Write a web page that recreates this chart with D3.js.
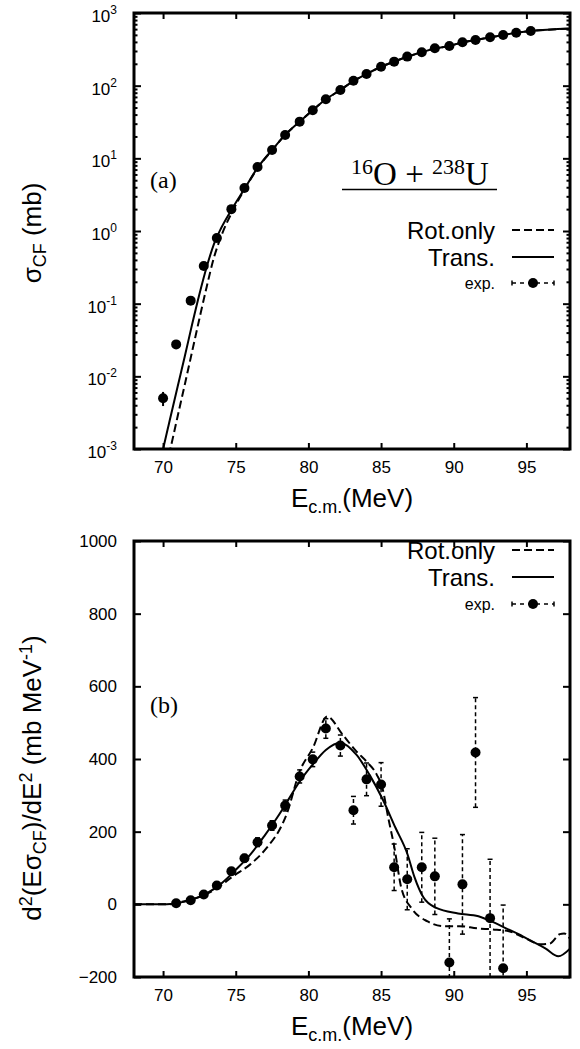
<!DOCTYPE html>
<html>
<head>
<meta charset="utf-8">
<script src="https://d3js.org/d3.v7.min.js"></script>
<style>
body{margin:0;background:#fff;}
svg text{font-family:"Liberation Sans",Arial,sans-serif;fill:#000;}
.serif{font-family:"Liberation Serif","Times New Roman",serif;}
</style>
</head>
<body>
<svg id="chart"></svg>
<script>
// ---- data ----
var xTicks = [70, 75, 80, 85, 90, 95];
var sigmaTicks = [1e-3, 1e-2, 1e-1, 1, 10, 100, 1000];
var sigmaExps = ["-3", "-2", "-1", "0", "1", "2", "3"];
var d2Ticks = [-200, 0, 200, 400, 600, 800, 1000];

// (a) fusion cross section, exp.
var expE = [70.0, 70.9, 71.9, 72.8, 73.7, 74.7, 75.6, 76.5, 77.5, 78.4, 79.4, 80.3, 81.2, 82.2,
            83.1, 84.0, 85.0, 85.9, 86.8, 87.8, 88.7, 89.7, 90.6, 91.5, 92.5, 93.4, 94.3, 95.3];
var expSigma = [0.005, 0.0275, 0.11, 0.33, 0.8, 2.0, 3.9, 7.6, 13, 21, 32, 46, 65, 87,
                117, 145, 182, 214, 251, 288, 327, 351, 395, 425, 463, 498, 536, 565];
var expSigmaErr = [0.0011, 0.003, 0.008, 0.02, 0.04, 0.08, 0.15, 0.3, 0.5, 0.8, 1, 1.5, 2, 3,
                   4, 5, 6, 7, 8, 9, 10, 11, 12, 13, 14, 15, 16, 17];

// (a) calculations
var transE = [69.9, 70.0, 70.5, 71.0, 71.5, 72.0, 72.5, 73.0, 73.5, 74.0, 74.7, 75.6, 76.5, 77.5, 78.4,
              79.4, 80.3, 81.2, 82.2, 83.1, 84.0, 85.0, 85.9, 86.8, 87.8, 88.7, 89.7, 90.6,
              91.5, 92.5, 93.4, 94.3, 95.3, 98.0];
var transSigma = [0.00083, 0.001, 0.0027, 0.0072, 0.019, 0.052, 0.135, 0.32, 0.66, 1.1, 1.95, 3.8, 7.4, 13, 21,
                  32, 46, 65, 87, 116, 145, 182, 214, 250, 288, 325, 352, 394,
                  425, 462, 497, 535, 565, 610];
var rotE = [70.4, 70.5, 71.0, 71.5, 72.0, 72.5, 73.0, 73.5, 74.0, 74.7, 75.6, 76.5, 77.5, 78.4,
            79.4, 80.3, 81.2, 82.2, 83.1, 84.0, 85.0, 85.9, 86.8, 87.8, 88.7, 89.7, 90.6,
            91.5, 92.5, 93.4, 94.3, 95.3, 98.0];
var rotSigma = [0.00082, 0.001, 0.0028, 0.0078, 0.022, 0.062, 0.17, 0.43, 0.85, 1.75, 3.7, 7.3, 13, 21,
                32, 46, 65, 87, 116, 145, 182, 214, 250, 288, 325, 352, 394,
                425, 462, 497, 535, 565, 610];

// (b) barrier distribution, exp.
var barE = [70.9, 71.9, 72.8, 73.7, 74.7, 75.6, 76.5, 77.5, 78.4, 79.4, 80.3, 81.2, 82.2,
            83.1, 84.0, 85.0, 85.9, 86.8, 87.8, 88.7, 89.7, 90.6, 91.5, 92.5, 93.4];
var barD = [3, 11, 27, 52, 91, 127, 171, 217, 272, 352, 399, 484, 437,
            259, 344, 330, 102, 69, 102, 77, -160, 55, 418, -38, -176];
var barErr = [4, 5, 6, 8, 9, 10, 12, 13, 15, 18, 20, 27, 29,
              38, 45, 60, 64, 84, 96, 105, 120, 137, 151, 162, 174];

// (b) calculations
var transBE = [68, 70, 70.5, 71, 72, 73, 74, 75, 76, 77, 78, 78.5, 79.4, 80.3, 81.2, 82.2, 83.3,
               84.2, 85.1, 86.0, 86.8, 87.3, 87.9, 88.8, 90.3, 91.7, 92.6, 93.6, 94.5, 95.4,
               96.3, 97.2, 98];
var transBD = [0, 0, 1, 4, 13, 30, 57, 95, 137, 190, 248, 280, 338, 385, 425, 445, 412,
               357, 290, 210, 140, 75, 20, -10, -25, -33, -47, -66, -83, -102,
               -121, -143, -122];
var rotBE = [68, 70.3, 71.4, 72.6, 73.7, 74.8, 76.0, 77.1, 78.2, 78.5, 79.4, 80.3, 81.3, 82.3,
             83.3, 84.0, 84.7, 85.1, 85.5, 85.9, 86.4, 87.1, 88.2, 89.3, 90.4, 91.6, 92.7,
             93.8, 94.9, 96.0, 96.6, 97.3, 97.6, 98];
var rotBD = [0, 0, 8, 22, 44, 77, 110, 154, 220, 248, 366, 430, 517, 470,
             421, 393, 357, 319, 237, 160, 44, -11, -47, -60, -60, -66, -69,
             -74, -93, -110, -108, -82, -80, -95];

// ---- drawing ----
var W = 580, H = 1049;
var svg = d3.select("#chart").attr("width", W).attr("height", H);

var L = 134, R = 570;
var xA = d3.scaleLinear().domain([68, 98]).range([L, R]);
var yA = d3.scaleLog().domain([1e-3, 1e3]).range([449, 13]);
var xB = d3.scaleLinear().domain([68, 98]).range([L, R]);
var yB = d3.scaleLinear().domain([-200, 1000]).range([977, 541]);

function styleAxis(g) {
	g.select(".domain").remove();
	g.selectAll(".tick line").attr("stroke", "#000").attr("stroke-width", 2);
	g.selectAll("text").attr("font-family", "Liberation Sans, Arial, sans-serif").attr("font-size", 17).attr("fill", "#000");
}

function frame(x, y, yMajor, labelY, minor) {
	var top = y.range()[1], bot = y.range()[0];
	svg.append("g").attr("transform", "translate(0," + bot + ")")
		.call(d3.axisBottom(x).tickValues(xTicks).tickSize(-6).tickSizeOuter(0).tickPadding(12).tickFormat(d3.format("d")))
		.call(styleAxis);
	svg.append("g").attr("transform", "translate(0," + top + ")")
		.call(d3.axisTop(x).tickValues(xTicks).tickSize(-6).tickSizeOuter(0).tickFormat(""))
		.call(styleAxis);
	var left = d3.axisLeft(y).tickValues(yMajor).tickSize(-7).tickSizeOuter(0).tickPadding(17);
	if (labelY) left.tickFormat(labelY); else left.tickFormat("");
	svg.append("g").attr("transform", "translate(" + L + ",0)").call(left).call(styleAxis);
	svg.append("g").attr("transform", "translate(" + R + ",0)")
		.call(d3.axisRight(y).tickValues(yMajor).tickSize(-7).tickSizeOuter(0).tickFormat(""))
		.call(styleAxis);
	if (minor) {
		svg.append("g").attr("transform", "translate(" + L + ",0)")
			.call(d3.axisLeft(y).tickValues(minor).tickSize(-3.5).tickSizeOuter(0).tickFormat(""))
			.call(styleAxis);
		svg.append("g").attr("transform", "translate(" + R + ",0)")
			.call(d3.axisRight(y).tickValues(minor).tickSize(-3.5).tickSizeOuter(0).tickFormat(""))
			.call(styleAxis);
	}
	svg.append("rect").attr("x", L).attr("y", top).attr("width", R - L).attr("height", bot - top)
		.attr("fill", "none").attr("stroke", "#000").attr("stroke-width", 3);
}

function clip(id, y) {
	svg.append("clipPath").attr("id", id).append("rect")
		.attr("x", L).attr("y", y.range()[1]).attr("width", R - L).attr("height", y.range()[0] - y.range()[1]);
}

// ---------- panel (a) ----------
clip("clipA", yA);
var minorA = yA.ticks().filter(function(v){ return sigmaTicks.indexOf(v) < 0; });
frame(xA, yA, sigmaTicks, null, minorA);

// log tick labels 10^n
sigmaTicks.forEach(function(v, i){
	var t = svg.append("text").attr("x", 117).attr("y", yA(v) + 9).attr("text-anchor", "end").attr("font-size", 17);
	t.append("tspan").text("10");
	t.append("tspan").attr("dy", -8).attr("font-size", 12).text(sigmaExps[i]);
});

var gA = svg.append("g").attr("clip-path", "url(#clipA)");
var lineA = d3.line().x(function(d){ return xA(d[0]); }).y(function(d){ return yA(d[1]); }).curve(d3.curveMonotoneX);
gA.append("path").datum(d3.zip(rotE, rotSigma)).attr("d", lineA)
	.attr("fill", "none").attr("stroke", "#000").attr("stroke-width", 2).attr("stroke-dasharray", "8,4");
gA.append("path").datum(d3.zip(transE, transSigma)).attr("d", lineA)
	.attr("fill", "none").attr("stroke", "#000").attr("stroke-width", 2);
var ptsA = d3.zip(expE, expSigma, expSigmaErr);
gA.selectAll(".errA").data(ptsA).enter().append("line")
	.attr("x1", function(d){ return xA(d[0]); }).attr("x2", function(d){ return xA(d[0]); })
	.attr("y1", function(d){ return yA(d[1] - d[2]); }).attr("y2", function(d){ return yA(d[1] + d[2]); })
	.attr("stroke", "#000").attr("stroke-width", 2);
gA.selectAll(".ptA").data(ptsA).enter().append("circle")
	.attr("cx", function(d){ return xA(d[0]); }).attr("cy", function(d){ return yA(d[1]); })
	.attr("r", 5).attr("fill", "#000");

// labels (a)
svg.append("text").attr("class", "serif").attr("x", 150).attr("y", 188).attr("font-size", 24).text("(a)");
var ttl = svg.append("text").attr("class", "serif").attr("x", 420).attr("y", 185).attr("text-anchor", "middle").attr("font-size", 33);
ttl.append("tspan").attr("font-size", 22).attr("dy", -11).text("16");
ttl.append("tspan").attr("dy", 11).text("O + ");
ttl.append("tspan").attr("font-size", 22).attr("dy", -11).text("238");
ttl.append("tspan").attr("dy", 11).text("U");
svg.append("line").attr("x1", 342).attr("x2", 497).attr("y1", 189.5).attr("y2", 189.5).attr("stroke", "#000").attr("stroke-width", 1.5);

function legend(yRows) {
	var tx = 495, x1 = 512, x2 = 554;
	svg.append("text").attr("x", tx).attr("y", yRows[0] + 9).attr("text-anchor", "end").attr("font-size", 24).text("Rot.only");
	svg.append("line").attr("x1", x1).attr("x2", x2).attr("y1", yRows[0]).attr("y2", yRows[0])
		.attr("stroke", "#000").attr("stroke-width", 2).attr("stroke-dasharray", "8,4");
	svg.append("text").attr("x", tx).attr("y", yRows[1] + 9).attr("text-anchor", "end").attr("font-size", 24).text("Trans.");
	svg.append("line").attr("x1", x1).attr("x2", x2).attr("y1", yRows[1]).attr("y2", yRows[1])
		.attr("stroke", "#000").attr("stroke-width", 2);
	svg.append("text").attr("x", tx).attr("y", yRows[2] + 6).attr("text-anchor", "end").attr("font-size", 16).text("exp.");
	svg.append("line").attr("x1", x1).attr("x2", x2).attr("y1", yRows[2]).attr("y2", yRows[2])
		.attr("stroke", "#000").attr("stroke-width", 1.5).attr("stroke-dasharray", "4,4");
	[x1, x2].forEach(function(xx){
		svg.append("line").attr("x1", xx).attr("x2", xx).attr("y1", yRows[2] - 2.5).attr("y2", yRows[2] + 2.5)
			.attr("stroke", "#000").attr("stroke-width", 1.5);
	});
	svg.append("circle").attr("cx", (x1 + x2) / 2).attr("cy", yRows[2]).attr("r", 5).attr("fill", "#000");
}
legend([230, 257, 283]);

function xTitle(y) {
	var t = svg.append("text").attr("x", 352).attr("y", y).attr("text-anchor", "middle").attr("font-size", 26);
	t.append("tspan").text("E");
	t.append("tspan").attr("font-size", 18).attr("dy", 6).text("c.m.");
	t.append("tspan").attr("dy", -6).text("(MeV)");
}
xTitle(507);

var yl = svg.append("text").attr("transform", "translate(41,233) rotate(-90)").attr("text-anchor", "middle").attr("font-size", 26);
yl.append("tspan").text("σ");
yl.append("tspan").attr("font-size", 18).attr("dy", 5).text("CF");
yl.append("tspan").attr("dy", -5).text(" (mb)");

// ---------- panel (b) ----------
clip("clipB", yB);
frame(xB, yB, d2Ticks, d3.format("d"), null);

var gB = svg.append("g").attr("clip-path", "url(#clipB)");
var lineB = d3.line().x(function(d){ return xB(d[0]); }).y(function(d){ return yB(d[1]); }).curve(d3.curveMonotoneX);
gB.append("path").datum(d3.zip(rotBE, rotBD)).attr("d", lineB)
	.attr("fill", "none").attr("stroke", "#000").attr("stroke-width", 2).attr("stroke-dasharray", "8,4");
gB.append("path").datum(d3.zip(transBE, transBD)).attr("d", lineB)
	.attr("fill", "none").attr("stroke", "#000").attr("stroke-width", 2);
var ptsB = d3.zip(barE, barD, barErr);
gB.selectAll(".errB").data(ptsB).enter().append("line")
	.attr("x1", function(d){ return xB(d[0]); }).attr("x2", function(d){ return xB(d[0]); })
	.attr("y1", function(d){ return yB(d[1] - d[2]); }).attr("y2", function(d){ return yB(d[1] + d[2]); })
	.attr("stroke", "#000").attr("stroke-width", 1.5).attr("stroke-dasharray", "4,3");
[-1, 1].forEach(function(s){
	gB.selectAll(".capB" + s).data(ptsB).enter().append("line")
		.attr("x1", function(d){ return xB(d[0]) - 2.5; }).attr("x2", function(d){ return xB(d[0]) + 2.5; })
		.attr("y1", function(d){ return yB(d[1] + s * d[2]); }).attr("y2", function(d){ return yB(d[1] + s * d[2]); })
		.attr("stroke", "#000").attr("stroke-width", 1.5);
});
gB.selectAll(".ptB").data(ptsB).enter().append("circle")
	.attr("cx", function(d){ return xB(d[0]); }).attr("cy", function(d){ return yB(d[1]); })
	.attr("r", 5).attr("fill", "#000");

svg.append("text").attr("class", "serif").attr("x", 150).attr("y", 713).attr("font-size", 24).text("(b)");
legend([550, 577, 604]);
xTitle(1035);

var yl2 = svg.append("text").attr("transform", "translate(41,778) rotate(-90)").attr("text-anchor", "middle").attr("font-size", 26);
yl2.append("tspan").text("d");
yl2.append("tspan").attr("font-size", 18).attr("dy", -9).text("2");
yl2.append("tspan").attr("dy", 9).text("(Eσ");
yl2.append("tspan").attr("font-size", 18).attr("dy", 5).text("CF");
yl2.append("tspan").attr("dy", -5).text(")/dE");
yl2.append("tspan").attr("font-size", 18).attr("dy", -9).text("2");
yl2.append("tspan").attr("dy", 9).text(" (mb MeV");
yl2.append("tspan").attr("font-size", 18).attr("dy", -9).text("-1");
yl2.append("tspan").attr("dy", 9).text(")");
</script>
</body>
</html>
